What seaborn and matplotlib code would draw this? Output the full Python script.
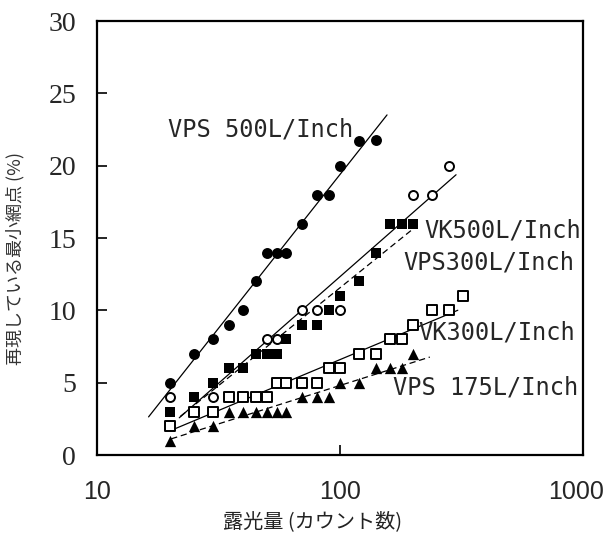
import numpy as np
import pandas as pd
import matplotlib
matplotlib.use('Agg')
import matplotlib.pyplot as plt
import matplotlib.transforms as mtransforms
import seaborn as sns

# --- data ---
vps500_x = [20, 25, 30, 35, 40, 45, 50, 55, 60, 70, 80, 90, 100, 120, 140]
vps500_y = [5, 7, 8, 9, 10, 12, 14, 14, 14, 16, 18, 18, 20, 21.7, 21.8]

vps300_x = [20, 30, 50, 55, 70, 80, 100, 200, 240, 280]
vps300_y = [4, 4, 8, 8, 10, 10, 10, 18, 18, 20]

vk500_x = [20, 25, 30, 35, 40, 45, 50, 55, 60, 70, 80, 90, 100, 120, 140, 160, 180, 200]
vk500_y = [3, 4, 5, 6, 6, 7, 7, 7, 8, 9, 9, 10, 11, 12, 14, 16, 16, 16]

vk300_x = [20, 25, 30, 35, 40, 45, 50, 55, 60, 70, 80, 90, 100, 120, 140, 160, 180, 200, 240, 280, 320]
vk300_y = [2, 3, 3, 4, 4, 4, 4, 5, 5, 5, 5, 6, 6, 7, 7, 8, 8, 9, 10, 10, 11]

vps175_x = [20, 25, 30, 35, 40, 45, 50, 55, 60, 70, 80, 90, 100, 120, 140, 160, 180, 200]
vps175_y = [1, 2, 2, 3, 3, 3, 3, 3, 3, 4, 4, 4, 5, 5, 6, 6, 6, 7]

series_labels = ['VPS 500L/Inch', 'VK500L/Inch', 'VPS300L/Inch', 'VK300L/Inch', 'VPS 175L/Inch']
x_ticks = [10, 100, 1000]
y_ticks = [0, 5, 10, 15, 20, 25, 30]

sns.set_theme(style='ticks')
plt.rcParams['font.family'] = ['Noto Sans CJK JP', 'DejaVu Sans']

fig = plt.figure(figsize=(6.1, 5.35), dpi=100)
ax = fig.add_axes([0.159, 0.1495, 0.797, 0.811])

# marker / line style per series
specs = [
    (vps500_x, vps500_y, 'o', 'black', 62, '-', (16.3, 156)),
    (vps300_x, vps300_y, 'o', 'white', 42, '-', (21.8, 300)),
    (vk500_x, vk500_y, 's', 'black', 56, (0, (5, 3)), (22, 196)),
    (vk300_x, vk300_y, 's', 'white', 46, '-', (20.8, 305)),
    (vps175_x, vps175_y, '^', 'black', 66, (0, (5, 3)), (20.2, 234)),
]

for xs, ys, marker, face, size, ls, (lo, hi) in specs:
    # least squares fit in log(x)
    b, a = np.polyfit(np.log10(xs), ys, 1)
    fit_x = np.array([lo, hi])
    fit = pd.DataFrame({'x': fit_x, 'y': a + b * np.log10(fit_x)})
    sns.lineplot(data=fit, x='x', y='y', ax=ax, color='black', lw=0.9,
                 linestyle=ls, zorder=2)
    pts = pd.DataFrame({'x': xs, 'y': ys})
    lw = 1.4 if face == 'white' else 0
    sns.scatterplot(data=pts, x='x', y='y', ax=ax, marker=marker, s=size,
                    facecolor=face, edgecolor='black', linewidth=lw, zorder=3)

# curve labels
mono = dict(family='DejaVu Sans Mono', fontsize=17, va='center', ha='left')
ax.text(19.6, 22.5, series_labels[0], **mono)
ax.text(223, 15.5, series_labels[1], **mono)
ax.text(181.5, 13.3, series_labels[2], **mono)
ax.text(209.5, 8.47, series_labels[3], **mono)
ax.text(165, 4.66, series_labels[4], **mono)

ax.set_xscale('log')
ax.set_xlim(10, 1000)
ax.set_ylim(0, 30)
ax.set_xticks(x_ticks)
ax.set_xticklabels([str(t) for t in x_ticks], family='Liberation Sans', fontsize=18)
ax.set_yticks(y_ticks)
ax.set_yticklabels([str(t) for t in y_ticks], family='Liberation Serif', fontsize=20)
ax.minorticks_off()
ax.tick_params(axis='both', direction='in', length=7, width=1.2, color='black')
ax.tick_params(axis='x', pad=18)
ax.tick_params(axis='y', pad=15)

# last x label sits a little left of its tick, as in the reference
last = ax.get_xticklabels()[-1]
last.set_transform(last.get_transform() +
                   mtransforms.ScaledTranslation(-5 / 72, 0, fig.dpi_scale_trans))

for sp in ax.spines.values():
    sp.set_visible(True)
    sp.set_linewidth(1.6)
    sp.set_color('black')

ax.set_xlabel('露光量 (カウント数)', fontsize=14.5, color='#222222')
ax.set_ylabel('再現している最小網点 (%)', fontsize=13, color='#333333')
ax.xaxis.set_label_coords(0.444, -0.13)
ax.yaxis.set_label_coords(-0.15, 0.452)

fig.savefig('out.png', dpi=100)
